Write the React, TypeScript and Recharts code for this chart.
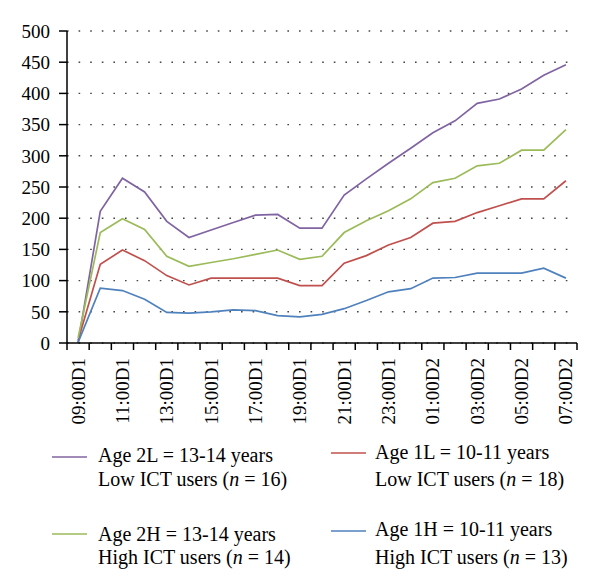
import React from "react";
import { LineChart, Line, XAxis, YAxis, CartesianGrid, Legend } from "recharts";

const times = [
  "09:00D1", "10:00D1", "11:00D1", "12:00D1", "13:00D1", "14:00D1", "15:00D1", "16:00D1",
  "17:00D1", "18:00D1", "19:00D1", "20:00D1", "21:00D1", "22:00D1", "23:00D1", "00:00D2",
  "01:00D2", "02:00D2", "03:00D2", "04:00D2", "05:00D2", "06:00D2", "07:00D2",
];

const age2L = [0, 211, 264, 242, 195, 169, 181, 193, 205, 206, 184, 184, 237, 263, 288, 312, 337, 356, 384, 391, 407, 429, 446];
const age2H = [8, 177, 199, 182, 139, 123, 129, 135, 142, 149, 134, 139, 177, 196, 212, 231, 257, 264, 284, 288, 309, 309, 342];
const age1L = [4, 126, 149, 132, 108, 93, 104, 104, 104, 104, 92, 92, 128, 140, 157, 169, 192, 195, 209, 220, 231, 231, 260];
const age1H = [1, 88, 84, 70, 49, 48, 50, 53, 52, 44, 42, 46, 55, 68, 82, 87, 104, 105, 112, 112, 112, 120, 104];

const yTicks = [0, 50, 100, 150, 200, 250, 300, 350, 400, 450, 500];

const series = [
  { key: "age2L", color: "#8064A2", line1: "Age 2L = 13-14 years", line2pre: "Low ICT users (", n: "16" },
  { key: "age1L", color: "#C0504D", line1: "Age 1L = 10-11 years", line2pre: "Low ICT users (", n: "18" },
  { key: "age2H", color: "#9BBB59", line1: "Age 2H = 13-14 years", line2pre: "High ICT users (", n: "14" },
  { key: "age1H", color: "#4F81BD", line1: "Age 1H = 10-11 years", line2pre: "High ICT users (", n: "13" },
];

const data = times.map((t, i) => ({
  idx: i,
  time: t,
  age2L: age2L[i],
  age2H: age2H[i],
  age1L: age1L[i],
  age1H: age1H[i],
}));

const FONT = "Liberation Serif, Times New Roman, serif";

// tick marks sit on the boundaries between hourly categories
const boundaryTicks = Array.from({ length: times.length + 1 }, (_, i) => i - 0.5);

const TimeTick = (props: any) => {
  const { x, y, payload, width } = props;
  const idx = payload.value + 0.5; // category to the right of this boundary
  if (idx >= times.length || idx % 2 !== 0) return <g />;
  const half = width / times.length / 2;
  return (
    <g transform={`translate(${x + half},${y})`}>
      <text
        transform="rotate(-90)"
        textAnchor="end"
        dy="0.34em"
        fontSize={19}
        style={{ fontFamily: FONT }}
        fill="#000"
      >
        {times[idx]}
      </text>
    </g>
  );
};

// legend layout slots (left col / right col, row 1 / row 2)
const slots = [
  { lx: 52, tx: 98, ly: 14, t1: 12, t2: 36 },
  { lx: 331, tx: 375, ly: 10, t1: 9, t2: 36 },
  { lx: 52, tx: 98, ly: 91, t1: 91, t2: 114 },
  { lx: 331, tx: 375, ly: 88, t1: 86, t2: 114 },
];

const LegendContent = () => (
  <svg width={600} height={130} style={{ display: "block", overflow: "visible" }}>
    {series.map((s, i) => {
      const p = slots[i];
      return (
        <g key={s.key} style={{ fontFamily: FONT }}>
          <line x1={p.lx} x2={p.lx + 35} y1={p.ly} y2={p.ly} stroke={s.color} strokeWidth={1.6} />
          <text x={p.tx} y={p.t1} dominantBaseline="central" fontSize={20} fill="#000">
            {s.line1}
          </text>
          <text x={p.tx} y={p.t2} dominantBaseline="central" fontSize={20} fill="#000">
            {s.line2pre}
            <tspan fontStyle="italic">n</tspan>
            {` = ${s.n})`}
          </text>
        </g>
      );
    })}
  </svg>
);

export default function App() {
  return (
    <div style={{ position: "absolute", left: 0, top: 0, width: 600, height: 582, background: "#fff", fontFamily: FONT }}>
      <LineChart
        width={600}
        height={582}
        data={data}
        margin={{ top: 31, right: 23, left: 7, bottom: 9 }}
        style={{ fontFamily: FONT }}
      >
        <CartesianGrid
          horizontal={true}
          vertical={false}
          stroke="#444"
          strokeWidth={1.4}
          strokeDasharray="1.6 10"
        />
        <XAxis
          dataKey="idx"
          type="number"
          domain={[-0.5, times.length - 0.5]}
          ticks={boundaryTicks}
          tick={<TimeTick />}
          tickSize={7}
          tickMargin={8}
          height={100}
          axisLine={{ stroke: "#000", strokeWidth: 1.5 }}
          tickLine={{ stroke: "#000", strokeWidth: 1.5 }}
          interval={0}
        />
        <YAxis
          type="number"
          domain={[0, 500]}
          ticks={yTicks}
          interval={0}
          width={60}
          tickSize={8}
          tickMargin={9}
          axisLine={{ stroke: "#000", strokeWidth: 1.5 }}
          tickLine={{ stroke: "#000", strokeWidth: 1.5 }}
          tick={{ fill: "#000", fontSize: 19, fontFamily: FONT }}
        />
        <Legend
          verticalAlign="bottom"
          content={<LegendContent />}
          wrapperStyle={{ position: "absolute", left: 0, top: 443, width: 600, height: 130 }}
        />
        {series.map((s) => (
          <Line
            key={s.key}
            type="linear"
            dataKey={s.key}
            stroke={s.color}
            strokeWidth={1.7}
            dot={false}
            isAnimationActive={false}
          />
        ))}
      </LineChart>
    </div>
  );
}
